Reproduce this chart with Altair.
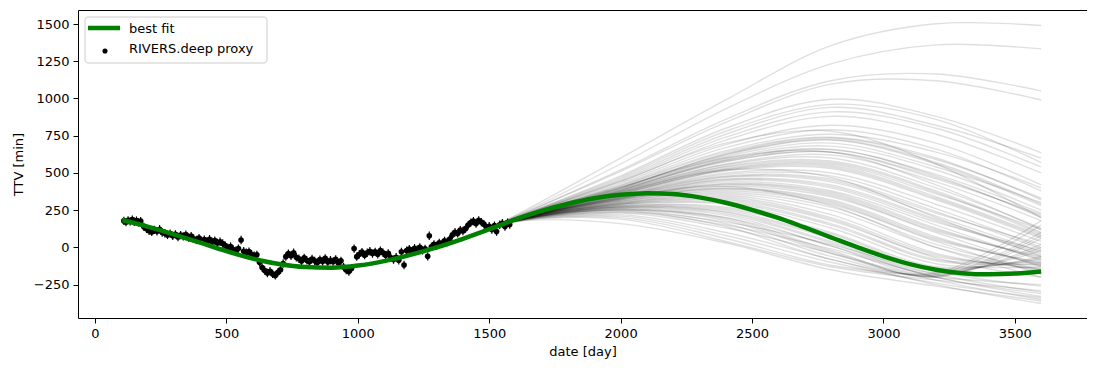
import altair as alt
import pandas as pd

# ---------------- data ----------------
FIT_X = [104, 200, 300, 400, 500, 600, 700, 800, 900, 1000, 1100, 1200, 1300, 1400, 1500,
         1600, 1700, 1800, 1900, 2000, 2100, 2200, 2300, 2400, 2500, 2600, 2700, 2800, 2900,
         3000, 3100, 3200, 3300, 3400, 3500, 3600]
FIT_Y = [184, 140, 88, 32, -25, -75, -112, -132, -136, -122, -92, -50, 0, 58, 122,
         188, 245, 293, 330, 353, 364, 358, 336, 300, 252, 198, 134, 68, 2,
         -60, -112, -150, -173, -181, -176, -162]

DATA_X = (
    [110, 118, 126, 134, 142, 150, 158, 166, 174]
    + [186, 196, 206, 216, 226, 236, 246, 256]
    + [266, 276, 286, 296, 306, 316, 326, 336, 346, 356, 366]
    + [376, 386, 396, 406, 416, 426, 436, 446, 456, 466, 476, 486]
    + [496, 506, 516, 526, 536, 546, 556, 566, 576, 586, 596, 606, 616]
    + [626, 636, 646, 656, 666, 676, 686, 696, 706]
    + [716, 726, 736, 746, 756, 766]
    + [776, 786, 796, 806, 816, 826, 836, 846, 856, 866, 876, 886, 896, 906, 916, 926, 936]
    + [946, 956, 966, 976]
    + [986, 996, 1006, 1016, 1026, 1036, 1046, 1056, 1066, 1076, 1086, 1096, 1106, 1116]
    + [1126, 1136, 1146, 1156]
    + [1166, 1176, 1186, 1196, 1206, 1216, 1226, 1236, 1246, 1256, 1266]
    + [1272]
    + [1280, 1290, 1300, 1310, 1320, 1330, 1340, 1350]
    + [1360, 1370, 1380, 1390, 1400, 1410]
    + [1420, 1430, 1440, 1450, 1460, 1470, 1480]
    + [1490, 1500, 1510, 1520, 1528, 1540, 1550, 1560, 1570, 1578]
)
DATA_Y = (
    [178, 170, 182, 175, 186, 172, 180, 168, 176]
    + [138, 125, 112, 104, 118, 108, 122, 100]
    + [95, 84, 92, 78, 88, 70, 82, 74, 86, 66, 76]
    + [58, 50, 62, 44, 52, 40, 55, 36, 45, 30, 38, 26]
    + [12, -4, 6, -14, -22, -8, 50, -26, -36, -28, -46, -56, -50]
    + [-100, -135, -155, -172, -160, -178, -188, -168, -150]
    + [-108, -62, -42, -56, -36, -66]
    + [-76, -92, -70, -86, -96, -78, -90, -102, -82, -94, -74, -98, -86, -96, -80, -104, -90]
    + [-132, -152, -162, -142]
    + [-8, -62, -46, -32, -52, -36, -26, -42, -30, -46, -22, -36, -52, -40]
    + [-70, -82, -66, -86]
    + [-30, -118, -22, -12, -26, -6, -16, 0, -20, -10, -60]
    + [78]
    + [4, 20, 10, 30, 24, 44, 36, 56]
    + [84, 102, 94, 116, 110, 126]
    + [150, 166, 176, 160, 182, 170, 156]
    + [130, 142, 120, 146, 106, 152, 162, 140, 166, 154]
)
DATA_ERR = 28

# shared early part of the posterior sample curves
EARLY_X = [110, 300, 500, 700, 900, 1100, 1300, 1450]
EARLY_Y = [180, 88, -25, -112, -136, -92, 0, 90]
# late knots and per-sample values
LATE_X = [1600, 2000, 2400, 2800, 3200, 3600]
SAMPLES = [
    [215, 600, 990, 1355, 1502, 1490],
    [210, 560, 930, 1232, 1360, 1333],
    [205, 520, 860, 1119, 1164, 1051],
    [205, 510, 840, 1096, 1119, 990],
    [200, 480, 800, 995, 880, 635],
    [200, 470, 780, 960, 860, 570],
    [198, 460, 760, 940, 820, 600],
    [198, 450, 740, 910, 800, 540],
    [196, 440, 720, 880, 760, 500],
    [196, 430, 690, 820, 700, 420],
    [195, 420, 670, 790, 660, 380],
    [194, 415, 650, 760, 640, 400],
    [194, 410, 640, 740, 600, 320],
    [193, 400, 620, 720, 560, 280],
    [193, 395, 610, 700, 540, 300],
    [192, 390, 600, 680, 520, 250],
    [192, 385, 590, 660, 480, 200],
    [191, 380, 575, 640, 460, 220],
    [191, 375, 560, 620, 440, 180],
    [190, 370, 545, 580, 380, 100],
    [190, 365, 530, 560, 360, 120],
    [189, 360, 515, 530, 320, 60],
    [189, 355, 500, 500, 290, 40],
    [188, 350, 490, 480, 260, 0],
    [188, 345, 475, 450, 230, 20],
    [187, 340, 460, 420, 190, -40],
    [187, 335, 450, 400, 170, -20],
    [186, 330, 430, 370, 130, -80],
    [186, 325, 420, 350, 110, -60],
    [185, 320, 400, 320, 70, -120],
    [185, 315, 390, 300, 50, -100],
    [184, 310, 370, 270, 20, -150],
    [184, 300, 350, 220, -40, -150],
    [183, 295, 330, 190, -60, -120],
    [183, 290, 310, 160, -80, -100],
    [182, 285, 290, 130, -110, -130],
    [182, 280, 270, 100, -130, -80],
    [181, 275, 250, 70, -150, -60],
    [181, 270, 235, 40, -170, -20],
    [180, 265, 215, 10, -190, 20],
    [180, 260, 200, -20, -200, 60],
    [179, 255, 180, -40, -190, 100],
    [179, 250, 160, -60, -180, 150],
    [178, 245, 140, -80, -170, 180],
    [178, 240, 170, 20, -180, -300],
    [177, 235, 150, -10, -200, -330],
    [177, 230, 130, -40, -220, -350],
    [176, 220, 100, -80, -250, -377],
    [175, 210, 80, -100, -240, -338],
    [175, 200, 60, -120, -200, -250],
    [174, 190, 40, -130, -220, -290],
    [172, 160, 30, -150, -260, -360],
    [194, 405, 600, 640, 420, 120],
    [190, 372, 520, 470, 200, -60],
    [186, 332, 410, 280, 0, -200],
    [197, 445, 700, 780, 560, 200],
    [193, 398, 630, 735, 590, 330],
    [192, 388, 580, 640, 470, 210],
    [191, 378, 555, 600, 400, 130],
    [190, 368, 540, 570, 370, 90],
    [189, 358, 520, 540, 330, 70],
    [188, 348, 480, 460, 240, -10],
    [187, 338, 455, 410, 180, -50],
    [186, 328, 425, 360, 120, -70],
    [185, 318, 395, 310, 60, -110],
    [184, 305, 360, 250, 0, -160],
    [183, 298, 340, 200, -50, -140],
    [182, 288, 300, 150, -90, -110],
    [181, 278, 260, 90, -140, -70],
    [180, 268, 225, 30, -180, 0],
    [179, 258, 190, -30, -195, 80],
    [185, 322, 410, 340, 100, -130],
    [187, 342, 470, 440, 210, -30],
    [189, 362, 525, 550, 340, 80],
    [191, 382, 585, 655, 490, 230],
    [193, 402, 625, 725, 570, 290],
    [184, 308, 380, 290, 40, -180],
    [182, 292, 320, 180, -70, -200],
    [180, 272, 240, 60, -160, -260],
    [178, 250, 200, 10, -200, -310],
    [186, 330, 440, 380, 150, -90],
]

X_TICKS = [0, 500, 1000, 1500, 2000, 2500, 3000, 3500]
Y_TICKS = [-250, 0, 250, 500, 750, 1000, 1250, 1500]
X_DOMAIN = [-64.5, 3774.5]
Y_DOMAIN = [-474, 1594]

# ---------------- tables ----------------
fit_df = pd.DataFrame({"x": FIT_X, "y": FIT_Y})
obs_df = pd.DataFrame({"x": DATA_X, "y": DATA_Y})
rows = []
for i, late in enumerate(SAMPLES):
    for xv, yv in zip(EARLY_X + LATE_X, EARLY_Y + late):
        rows.append({"id": i, "x": xv, "y": yv})
samp_df = pd.DataFrame(rows)
one = pd.DataFrame({"k": [0]})

FONT = "DejaVu Sans"
xs = alt.Scale(domain=X_DOMAIN, nice=False, zero=False)
ys = alt.Scale(domain=Y_DOMAIN, nice=False, zero=False)
x_enc = alt.X("x:Q", scale=xs, axis=alt.Axis(values=X_TICKS, format="d", title="date [day]"))
y_enc = alt.Y("y:Q", scale=ys, axis=alt.Axis(values=Y_TICKS, format="d", title="TTV [min]"))

samples = alt.Chart(samp_df).mark_line(
    color="#000000", opacity=0.125, strokeWidth=1.4, interpolate="catmull-rom", clip=True
).encode(x=x_enc, y=y_enc, detail="id:N")

errs = alt.Chart(obs_df).transform_calculate(
    lo=f"datum.y - {DATA_ERR}", hi=f"datum.y + {DATA_ERR}"
).mark_rule(color="black", strokeWidth=1.2).encode(
    x=alt.X("x:Q", scale=xs), y=alt.Y("lo:Q", scale=ys), y2="hi:Q"
)
pts = alt.Chart(obs_df).mark_circle(color="black", size=32, opacity=1).encode(
    x=alt.X("x:Q", scale=xs), y=alt.Y("y:Q", scale=ys)
)
fit = alt.Chart(fit_df).mark_line(
    color="#008000", strokeWidth=4.5, interpolate="monotone"
).encode(x=alt.X("x:Q", scale=xs), y=alt.Y("y:Q", scale=ys))

# legend box (pixel placement inside the plot area)
leg_box = alt.Chart(one).mark_rect(
    fill="white", fillOpacity=0.8, stroke="#cccccc", strokeWidth=1, cornerRadius=3
).encode(x=alt.value(7), x2=alt.value(189), y=alt.value(7), y2=alt.value(53))
leg_line = alt.Chart(one).mark_rule(color="#008000", strokeWidth=4.5).encode(
    x=alt.value(10), x2=alt.value(42), y=alt.value(18)
)
leg_dot = alt.Chart(one).mark_circle(color="black", size=26, opacity=1).encode(
    x=alt.value(27), y=alt.value(41)
)
leg_t1 = alt.Chart(one).mark_text(
    text="best fit", align="left", baseline="middle", font=FONT, fontSize=13, color="black"
).encode(x=alt.value(51), y=alt.value(19))
leg_t2 = alt.Chart(one).mark_text(
    text="RIVERS.deep proxy", align="left", baseline="middle", font=FONT, fontSize=13, color="black"
).encode(x=alt.value(51), y=alt.value(39))

chart = alt.layer(
    samples, errs, pts, fit, leg_box, leg_line, leg_dot, leg_t1, leg_t2
).properties(
    width=1009, height=308,
    autosize=alt.AutoSizeParams(type="none"),
    padding={"left": 70, "top": 2, "right": 0, "bottom": 45},
).configure_view(
    stroke="black", strokeWidth=1
).configure_axis(
    grid=False, domain=False,
    labelFont=FONT, labelFontSize=13, labelColor="black",
    titleFont=FONT, titleFontSize=13, titleColor="black", titleFontWeight="normal",
    tickColor="black", tickSize=5, tickWidth=1, labelPadding=4,
).configure_axisX(titlePadding=5).configure_axisY(titlePadding=8)

chart.save("out.html", embed_options={"renderer": "svg", "actions": False})
